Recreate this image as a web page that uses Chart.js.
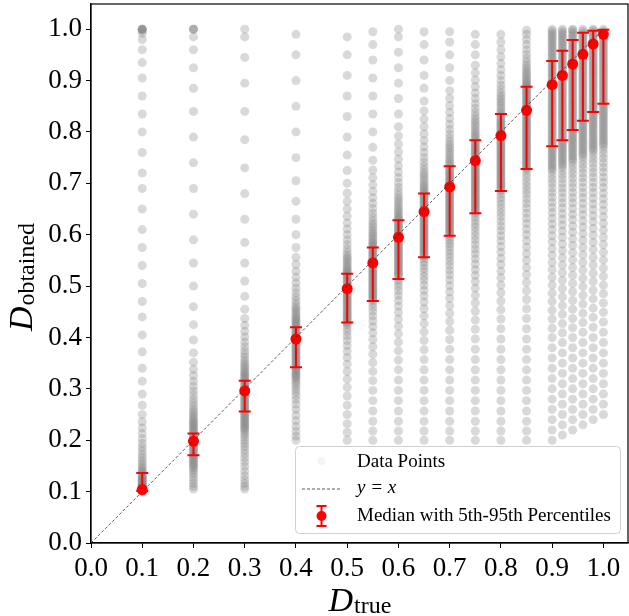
<!DOCTYPE html>
<html>
<head>
<meta charset="utf-8">
<script src="https://cdn.jsdelivr.net/npm/chart.js@4"></script>
<style>
  html, body { margin: 0; padding: 0; background: #fff; }
  canvas { display: block; }
</style>
</head>
<body>
<canvas id="chart" width="629" height="616"></canvas>
<script>
// x positions of the sampled columns (D_true)
const cloudX = [0.1, 0.2, 0.3, 0.4, 0.5, 0.55, 0.6, 0.65, 0.7, 0.75, 0.8, 0.85, 0.9, 0.92, 0.94, 0.96, 0.98, 1.0];

const cloudY = [
    [100,101,102,103,104,105,106,107,108,110,111,113,114,116,118,120,122,124,126,128,130,133,136,139,142,146,150,155,160,166,172,179,186,194,203,213,224,236,250,268,290,315,340,372,405,440,470,505,540,575,610,650,690,720,760,800,835,870,905,935,960,980,992,997,1000,1000,1000,1000],
    [105,110,116,122,128,134,139,143,147,150,153,156,159,162,165,168,171,174,177,180,183,186,189,192,195,198,201,204,207,210,213,216,219,222,225,228,231,234,237,240,244,248,252,256,261,267,273,280,288,296,305,315,326,338,352,370,395,425,460,500,545,590,640,690,740,790,840,885,925,960,985,1000,1000,1000],
    [105,110,116,123,131,140,149,158,166,174,181,188,194,200,206,211,216,220,223,226,229,232,235,238,241,244,247,250,253,256,259,262,265,268,271,274,277,280,283,286,289,292,295,298,301,304,307,310,313,316,319,322,325,328,331,334,338,342,346,350,355,361,367,374,382,391,401,412,424,437,455,480,510,545,585,630,680,730,785,840,895,945,985,1000],
    [200,208,217,227,238,249,260,270,279,287,294,300,306,311,316,320,323,326,329,332,335,338,341,344,347,350,353,356,359,362,365,368,371,374,377,380,383,386,389,392,395,398,401,404,407,410,413,416,419,422,425,428,431,434,437,440,444,448,452,456,460,466,472,479,487,496,506,517,529,542,556,575,600,630,665,705,750,800,850,900,950,990],
    [200,215,232,250,268,286,303,319,334,348,361,373,384,394,403,411,418,425,428,431,434,437,440,443,446,449,452,455,458,461,464,467,470,473,476,479,482,485,488,491,494,497,500,503,506,509,512,515,518,521,524,527,530,533,536,540,544,548,552,556,560,566,573,581,590,600,611,623,636,650,665,681,700,725,755,790,830,870,910,950,985],
    [200,218,237,257,277,297,316,334,351,367,382,396,409,421,432,442,451,459,466,472,475,478,481,484,487,490,493,496,499,502,505,508,511,514,517,520,523,526,529,532,535,538,541,544,547,550,553,556,559,562,565,568,571,574,577,580,583,586,590,594,598,602,606,611,616,621,627,634,642,651,661,672,684,697,711,726,745,770,800,835,870,905,940,970,995],
    [200,218,237,257,277,297,317,337,356,374,391,407,422,436,449,461,472,482,491,499,506,512,518,521,524,527,530,533,536,539,542,545,548,551,554,557,560,563,566,569,572,575,578,581,584,587,590,593,596,599,602,605,608,611,614,617,620,623,626,629,632,635,639,643,647,651,656,661,666,671,677,684,692,701,711,722,734,747,761,776,792,810,835,865,895,925,955,985,1000],
    [200,218,237,257,277,297,317,337,357,376,394,411,427,442,456,469,481,492,502,511,519,527,534,541,547,553,558,561,564,567,570,573,576,579,582,585,588,591,594,597,600,603,606,609,612,615,618,621,624,627,630,633,636,639,642,645,648,651,654,657,660,663,666,669,672,675,678,681,684,688,692,696,700,705,710,715,720,726,733,741,750,760,771,783,796,810,825,841,860,885,910,940,970,995],
    [200,218,237,257,277,297,317,337,357,377,396,414,431,447,462,476,489,501,512,522,531,540,548,556,563,570,577,583,589,595,600,603,606,609,612,615,618,621,624,627,630,633,636,639,642,645,648,651,654,657,660,663,666,669,672,675,678,681,684,687,690,693,696,699,702,705,708,711,714,717,720,723,726,729,733,737,741,745,750,755,760,765,770,775,781,788,796,805,815,826,838,851,865,880,900,925,950,975,995],
    [200,218,237,257,277,297,317,337,357,377,397,416,434,451,467,482,496,509,521,532,543,553,563,572,581,590,598,606,614,621,628,635,642,645,648,651,654,657,660,663,666,669,672,675,678,681,684,687,690,693,696,699,702,705,708,711,714,717,720,723,726,729,732,735,738,741,744,747,750,753,756,759,762,765,768,771,774,777,780,784,788,792,796,800,805,810,815,820,825,831,838,846,855,865,876,888,901,915,930,950,970,990],
    [200,218,237,257,277,297,317,337,357,377,397,417,436,454,471,487,502,516,529,542,554,566,577,588,598,608,617,626,635,643,651,659,666,673,680,686,689,692,695,698,701,704,707,710,713,716,719,722,725,728,731,734,737,740,743,746,749,752,755,758,761,764,767,770,773,776,779,782,785,788,791,794,797,800,803,806,809,812,815,818,821,824,828,832,836,840,845,850,855,860,865,870,876,883,891,900,910,921,933,946,960,975,990],
    [200,218,237,257,277,297,317,337,357,377,397,417,437,456,474,491,507,522,536,550,563,576,588,600,611,622,632,642,652,661,670,679,687,695,703,711,719,726,729,732,735,738,741,744,747,750,753,756,759,762,765,768,771,774,777,780,783,786,789,792,795,798,801,804,807,810,813,816,819,822,825,828,831,834,837,840,843,846,849,852,855,858,861,864,867,870,873,876,879,882,885,888,891,894,897,900,904,908,912,916,920,925,930,936,943,951,960,970,980,990,998],
    [200,220,240,260,280,300,320,340,360,380,400,418,436,453,470,486,502,517,532,546,560,573,586,598,610,621,632,643,653,663,673,682,691,700,708,716,724,728,732,736,740,744,748,752,756,760,764,768,772,776,780,784,788,792,796,800,804,808,812,816,820,824,828,832,836,840,844,848,852,856,860,864,868,872,876,880,884,888,892,896,900,904,908,912,916,920,924,928,932,936,940,944,948,952,956,960,964,968,972,976,980,984,988,992,996,1000],
    [210,230,250,270,290,310,330,350,370,390,409,427,445,462,479,495,511,526,541,555,569,582,595,607,619,630,641,652,662,672,682,691,700,709,717,725,732,736,740,744,748,752,756,760,764,768,772,776,780,784,788,792,796,800,804,808,812,816,820,824,828,832,836,840,844,848,852,856,860,864,868,872,876,880,884,888,892,896,900,904,908,912,916,920,924,928,932,936,940,944,948,952,956,960,964,968,972,976,980,984,988,992,996,1000],
    [220,240,260,280,300,320,340,360,380,400,419,437,455,472,489,505,521,536,551,565,579,592,605,617,629,640,651,662,672,682,692,701,710,719,727,735,742,746,750,754,758,762,766,770,774,778,782,786,790,794,798,802,806,810,814,818,822,826,830,834,838,842,846,850,854,858,862,866,870,874,878,882,886,890,894,898,902,906,910,914,918,922,926,930,934,938,942,946,950,954,958,962,966,970,974,978,982,986,990,994,998,1000],
    [230,250,270,290,310,330,350,370,390,410,429,447,465,482,499,515,531,546,561,575,589,602,615,627,639,650,661,672,682,692,702,711,720,729,737,745,752,756,760,764,768,772,776,780,784,788,792,796,800,804,808,812,816,820,824,828,832,836,840,844,848,852,856,860,864,868,872,876,880,884,888,892,896,900,904,908,912,916,920,924,928,932,936,940,944,948,952,956,960,964,968,972,976,980,984,988,992,996,1000],
    [240,260,280,300,320,340,360,380,400,420,439,457,475,492,509,525,541,556,571,585,599,612,625,637,649,660,671,682,692,702,712,721,730,739,747,755,762,766,770,774,778,782,786,790,794,798,802,806,810,814,818,822,826,830,834,838,842,846,850,854,858,862,866,870,874,878,882,886,890,894,898,902,906,910,914,918,922,926,930,934,938,942,946,950,954,958,962,966,970,974,978,982,986,990,994,998,1000],
    [250,270,290,310,330,350,370,390,410,430,449,467,485,502,519,535,551,566,581,595,609,622,635,647,659,670,681,692,702,712,722,731,740,749,757,765,772,776,780,784,788,792,796,800,804,808,812,816,820,824,828,832,836,840,844,848,852,856,860,864,868,872,876,880,884,888,892,896,900,904,908,912,916,920,924,928,932,936,940,944,948,952,956,960,964,968,972,976,980,984,988,992,996,1000],
];

// median and 5th / 95th percentiles per column
const medianY = [0.104, 0.198, 0.296, 0.397, 0.495, 0.545, 0.595, 0.645, 0.693, 0.744, 0.793, 0.842, 0.892, 0.910, 0.932, 0.951, 0.971, 0.990];
const lowY    = [0.101, 0.171, 0.256, 0.342, 0.429, 0.471, 0.514, 0.556, 0.598, 0.642, 0.685, 0.728, 0.772, 0.784, 0.804, 0.822, 0.839, 0.855];
const highY   = [0.136, 0.213, 0.316, 0.420, 0.524, 0.575, 0.628, 0.680, 0.733, 0.784, 0.835, 0.888, 0.938, 0.958, 0.979, 0.993, 0.997, 0.999];

const tickVals = [0.0, 0.1, 0.2, 0.3, 0.4, 0.5, 0.6, 0.7, 0.8, 0.9, 1.0];
const diagX = [0, 1];

const SERIF = '"Liberation Serif", "DejaVu Serif", serif';
const RED = '#ff0000';

const cloudPoints = cloudX.flatMap((x, i) => cloudY[i].map(v => ({ x: x, y: v / 1000 })));
const medianPoints = cloudX.map((x, i) => ({ x: x, y: medianY[i] }));
const diagPoints = diagX.map(v => ({ x: v, y: v }));

function drawLabel(ctx, main, sub, x, y) {
    ctx.font = 'italic 34px ' + SERIF;
    const w1 = ctx.measureText(main).width;
    ctx.font = '24px ' + SERIF;
    const w2 = ctx.measureText(sub).width;
    const start = x - (w1 + w2) / 2;
    ctx.textAlign = 'left';
    ctx.textBaseline = 'alphabetic';
    ctx.font = 'italic 34px ' + SERIF;
    ctx.fillText(main, start, y);
    ctx.font = '24px ' + SERIF;
    ctx.fillText(sub, start + w1 + 1, y + 2);
}

// drop the label overflow padding so the plot box sits where the reference has it
function noPad(s) {
    s.paddingTop = 0; s.paddingBottom = 0;
    s.paddingLeft = 0; s.paddingRight = 0;
}

const extras = {
    id: 'extras',
    beforeDatasetDraw(chart, args) {
        if (args.index !== 0) return;
        chart.ctx.save();
        chart.ctx.filter = 'blur(0.5px)';
    },
    afterDatasetDraw(chart, args) {
        if (args.index !== 0) return;
        const { ctx, scales: { x, y } } = chart;
        ctx.restore();
        ctx.save();
        ctx.strokeStyle = RED;
        ctx.lineWidth = 2;
        cloudX.forEach((v, i) => {
            const px = x.getPixelForValue(v);
            const lo = y.getPixelForValue(lowY[i]);
            const hi = y.getPixelForValue(highY[i]);
            ctx.beginPath();
            ctx.moveTo(px, lo); ctx.lineTo(px, hi);
            ctx.moveTo(px - 6, lo); ctx.lineTo(px + 6, lo);
            ctx.moveTo(px - 6, hi); ctx.lineTo(px + 6, hi);
            ctx.stroke();
        });
        ctx.restore();
    },
    afterDraw(chart) {
        const { ctx, chartArea: a } = chart;
        ctx.save();
        // spines
        ctx.strokeStyle = '#000';
        ctx.lineWidth = 1.2;
        ctx.strokeRect(a.left, a.top, a.right - a.left, a.bottom - a.top);

        // legend box
        const lx = 295.5, ly = 446.5, lw = 325, lh = 87;
        ctx.beginPath();
        ctx.roundRect(lx, ly, lw, lh, 4);
        ctx.fillStyle = 'rgba(255,255,255,0.8)';
        ctx.fill();
        ctx.strokeStyle = '#d0d0d0';
        ctx.lineWidth = 1;
        ctx.stroke();

        ctx.fillStyle = 'rgba(128,128,128,0.08)';
        ctx.beginPath();
        ctx.arc(321.5, 461, 4, 0, Math.PI * 2);
        ctx.fill();

        ctx.strokeStyle = '#333';
        ctx.lineWidth = 0.8;
        ctx.setLineDash([3, 2]);
        ctx.beginPath();
        ctx.moveTo(302, 489); ctx.lineTo(341, 489);
        ctx.stroke();
        ctx.setLineDash([]);

        ctx.strokeStyle = RED;
        ctx.lineWidth = 2;
        ctx.beginPath();
        ctx.moveTo(321.5, 506); ctx.lineTo(321.5, 526);
        ctx.moveTo(316.5, 506); ctx.lineTo(326.5, 506);
        ctx.moveTo(316.5, 526); ctx.lineTo(326.5, 526);
        ctx.stroke();
        ctx.fillStyle = RED;
        ctx.beginPath();
        ctx.arc(321.5, 516, 5, 0, Math.PI * 2);
        ctx.fill();

        ctx.fillStyle = '#000';
        ctx.textAlign = 'left';
        ctx.textBaseline = 'middle';
        ctx.font = '19px ' + SERIF;
        ctx.fillText('Data Points', 357, 462);
        ctx.fillText('Median with 5th-95th Percentiles', 357, 516);
        ctx.font = 'italic 19px ' + SERIF;
        ctx.fillText('y = x', 357, 488);

        // axis titles
        drawLabel(ctx, 'D', 'true', (a.left + a.right) / 2, 611);
        ctx.translate(32, (a.top + a.bottom) / 2 + 4);
        ctx.rotate(-Math.PI / 2);
        drawLabel(ctx, 'D', 'obtained', 0, 0);
        ctx.restore();
    }
};

const tickOpts = {
    color: '#000',
    font: { family: SERIF, size: 27 },
    callback: v => v.toFixed(1),
};

new Chart(document.getElementById('chart'), {
    type: 'scatter',
    data: {
        datasets: [
            {
                label: 'Data Points',
                data: cloudPoints,
                backgroundColor: 'rgba(128,128,128,0.3)',
                borderWidth: 0,
                pointRadius: 4.5,
                pointHoverRadius: 4.5,
                order: 3,
            },
            {
                label: 'Median with 5th-95th Percentiles',
                data: medianPoints,
                backgroundColor: RED,
                borderWidth: 0,
                pointRadius: 5.5,
                pointHoverRadius: 5.5,
                order: 2,
            },
            {
                type: 'line',
                label: 'y = x',
                data: diagPoints,
                borderColor: '#333',
                borderWidth: 0.8,
                borderDash: [3, 2],
                pointRadius: 0,
                fill: false,
                order: 1,
            },
        ],
    },
    options: {
        responsive: false,
        animation: false,
        devicePixelRatio: 1,
        layout: { autoPadding: false, padding: { top: 4, right: 1, left: 0, bottom: 0 } },
        plugins: {
            legend: { display: false },
            tooltip: { enabled: false },
        },
        scales: {
            x: {
                type: 'linear',
                min: 0,
                max: 1.048,
                afterBuildTicks: s => { s.ticks = tickVals.map(v => ({ value: v })); },
                afterFit: s => { s.height = 73; noPad(s); },
                ticks: Object.assign({ padding: 5, maxRotation: 0 }, tickOpts),
                grid: { display: true, drawOnChartArea: false, drawTicks: true, tickLength: 5, color: '#000' },
                border: { display: true, color: '#000', width: 1.2 },
            },
            y: {
                type: 'linear',
                min: 0,
                max: 1.049,
                afterBuildTicks: s => { s.ticks = tickVals.map(v => ({ value: v })); },
                afterFit: s => { s.width = 91; noPad(s); },
                ticks: Object.assign({ padding: 4 }, tickOpts),
                grid: { display: true, drawOnChartArea: false, drawTicks: true, tickLength: 5, color: '#000' },
                border: { display: true, color: '#000', width: 1.2 },
            },
        },
    },
    plugins: [extras],
});
</script>
</body>
</html>
